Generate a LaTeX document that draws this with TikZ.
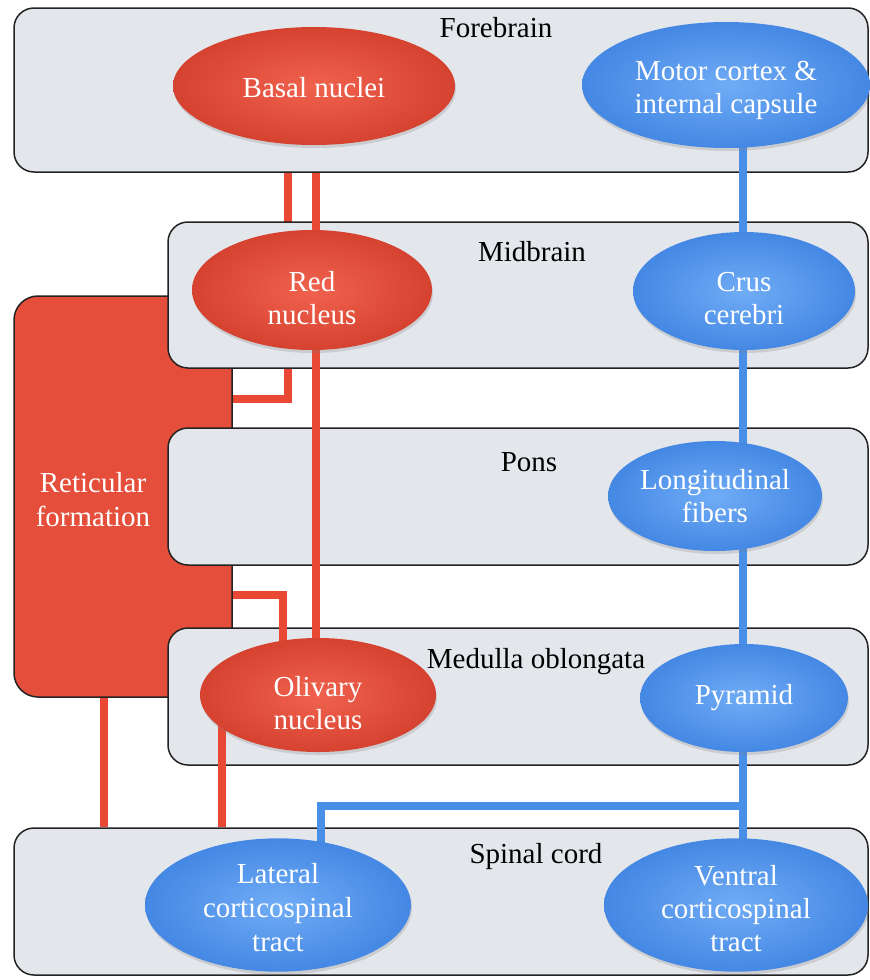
\documentclass[tikz,border=0pt]{standalone}
\usepackage{fontspec}
\setmainfont{Liberation Serif}
\usetikzlibrary{shapes.geometric,shadows}

\definecolor{boxfill}{RGB}{227,230,235}
\definecolor{boxline}{RGB}{35,35,35}
\definecolor{redbase}{RGB}{228,78,58}
\definecolor{redin}{RGB}{240,98,78}
\definecolor{redout}{RGB}{214,66,48}
\definecolor{redwire}{RGB}{233,72,52}
\definecolor{bluein}{RGB}{112,172,246}
\definecolor{blueout}{RGB}{68,136,228}
\definecolor{bluewire}{RGB}{74,143,231}

\pgfdeclarelayer{paper}
\pgfdeclarelayer{hidden}
\pgfdeclarelayer{boxes}
\pgfdeclarelayer{under}
\pgfdeclarelayer{fore}
\pgfdeclarelayer{links}
\pgfsetlayers{paper,hidden,boxes,under,fore,links,main}

% a tall invisible strut on the first line pushes a label down inside its oval
\newcommand\labeldrop[1]{\rule{0pt}{#1}}

\tikzset{
  region/.style={rectangle, rounded corners=20pt, draw=boxline, line width=1.5pt,
                 fill=boxfill, inner sep=0pt},
  title/.style={anchor=base, inner sep=0pt, text=black},
  oval/.style={ellipse, inner sep=0pt, align=center, text=white,
               drop shadow={shadow xshift=1pt, shadow yshift=-3pt, opacity=0.25}},
  redoval/.style={oval, inner color=redin, outer color=redout},
  blueoval/.style={oval, inner color=bluein, outer color=blueout},
  redlink/.style={draw=redwire, line width=8pt},
  bluelink/.style={draw=bluewire, line width=7.5pt},
}

\begin{document}
\begin{tikzpicture}[x=1pt, y=-1pt, font=\fontsize{29}{33}\selectfont]
\begin{pgfonlayer}{paper}
  \fill[white] (0,0) rectangle (870,980);
\end{pgfonlayer}
\useasboundingbox (0,0) rectangle (870,980);

% column and row guides for the wiring
\coordinate (colA) at (288,0);
\coordinate (colB) at (316,0);
\coordinate (colC) at (283,0);
\coordinate (colD) at (222,0);
\coordinate (colR) at (104,0);
\coordinate (colE) at (743,0);
\coordinate (colF) at (321,0);
\coordinate (rowA) at (0,399);
\coordinate (rowB) at (0,595);
\coordinate (rowC) at (0,806);

% brain regions
\begin{pgfonlayer}{boxes}
  \node[region, rounded corners=24pt, fill=redbase, minimum width=218pt, minimum height=401pt] (ret) at (123,496.5) {};
  \node[region, minimum width=700pt, minimum height=146pt] (mid) at (518,295) {};
  \node[region, minimum width=700pt, minimum height=137pt] (pons) at (518,496.5) {};
  \node[region, minimum width=700pt, minimum height=137pt] (med) at (518,696.5) {};
  \node[region, minimum width=854pt, minimum height=147pt] (spinal) at (441,901.5) {};
\end{pgfonlayer}
\begin{pgfonlayer}{fore}
  \node[region, minimum width=854pt, minimum height=164pt] (fore) at (441,90) {};
\end{pgfonlayer}

\node[align=center, text=white, font=\fontsize{29}{34}\selectfont] (retlabel) at (93,500) {Reticular\\formation};

% region titles
\node[title] (tfore) at (496,37) {Forebrain};
\node[title] (tmid) at (532,261) {Midbrain};
\node[title] (tpons) at (529,471) {Pons};
\node[title] (tmed) at (536,668) {Medulla oblongata};
\node[title] (tspinal) at (536,863) {Spinal cord};

% nuclei and tracts
\node[redoval, minimum width=282pt, minimum height=118pt] (basal) at (314,86) {\labeldrop{24pt}Basal nuclei};
\node[blueoval, minimum width=288pt, minimum height=126pt] (motor) at (726,85) {\labeldrop{30pt}Motor cortex \&\\internal capsule};
\node[redoval, minimum width=240pt, minimum height=120pt] (red) at (312,290) {\labeldrop{37pt}Red\\nucleus};
\node[blueoval, minimum width=222pt, minimum height=118pt] (crus) at (744,291) {\labeldrop{34pt}Crus\\cerebri};
\node[blueoval, minimum width=214pt, minimum height=110pt] (long) at (715,496) {Longitudinal\\fibers};
\node[redoval, minimum width=236pt, minimum height=114pt] (olive) at (318,695) {\labeldrop{36pt}Olivary\\nucleus};
\node[blueoval, minimum width=208pt, minimum height=108pt] (pyr) at (744,698) {Pyramid};
\node[blueoval, minimum width=266pt, minimum height=126pt, font=\fontsize{29}{34}\selectfont] (lat) at (278,905) {\labeldrop{26pt}Lateral\\corticospinal\\tract};
\node[blueoval, minimum width=264pt, minimum height=130pt, font=\fontsize{29}{33}\selectfont] (ven) at (736,905) {\labeldrop{28pt}Ventral\\corticospinal\\tract};

% wiring
\begin{pgfonlayer}{hidden}
  \draw[redlink] (colA |- basal.center) |- (ret.center |- rowA);
\end{pgfonlayer}
\begin{pgfonlayer}{under}
  \draw[redlink] (colB |- basal.center) -- (colB |- red.center);
\end{pgfonlayer}
\begin{pgfonlayer}{links}
  \draw[redlink] (colB |- red.center) -- (colB |- olive.center);
  \draw[redlink] (ret.east |- rowB) -| (colC |- olive.center);
  \draw[redlink] (colR |- ret.south) -- (colR |- spinal.north);
  \draw[redlink] (colD |- olive.center) -- (colD |- spinal.north);
  \draw[bluelink] (colE |- motor.center) -- (colE |- crus.center);
  \draw[bluelink] (colE |- crus.center) -- (colE |- long.center);
  \draw[bluelink] (colE |- long.center) -- (colE |- pyr.center);
  \draw[bluelink] (colE |- pyr.center) -- (colE |- ven.center);
  \draw[bluelink] (colE |- rowC) -| (colF |- lat.center);
\end{pgfonlayer}
\end{tikzpicture}
\end{document}
